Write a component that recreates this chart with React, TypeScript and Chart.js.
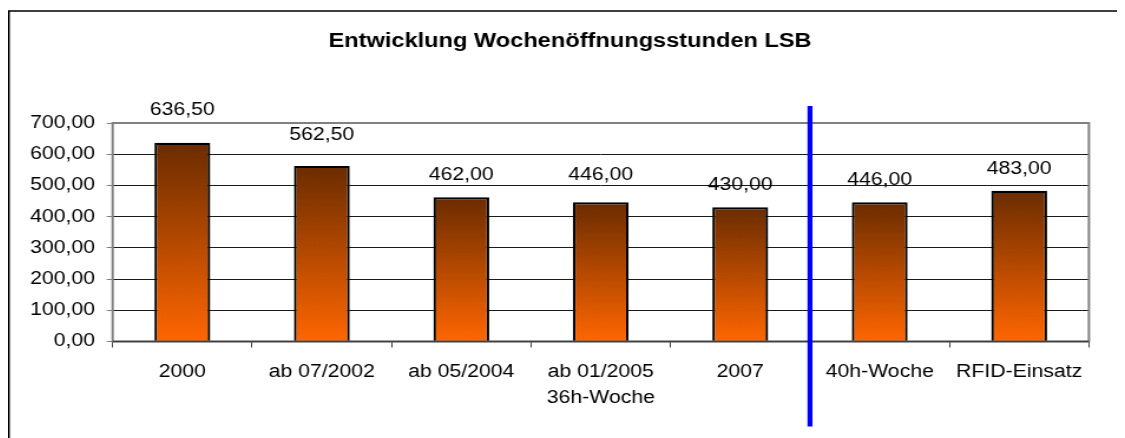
import React, { useEffect, useRef } from "react";
import { Chart, registerables } from "chart.js";

Chart.register(...registerables);

// ---- data ----
const chartTitle = "Entwicklung Wochenöffnungsstunden LSB";
const categories: (string | string[])[] = [
  "2000",
  "ab 07/2002",
  "ab 05/2004",
  ["ab 01/2005", "36h-Woche"],
  "2007",
  "40h-Woche",
  "RFID-Einsatz",
];
const openingHours = [636.5, 562.5, 462.0, 446.0, 430.0, 446.0, 483.0];
const yMin = 0;
const yMax = 700;
const yStep = 100;
// divider sits between "2007" (index 4) and "40h-Woche" (index 5)
const dividerAfterIndex = 4;
// distance of each value label above its bar (label placement as in the original)
const labelGaps = [28, 26, 17, 22, 17, 17, 17];

// ---- geometry / style ----
const STRETCH = 1.18; // the reference is horizontally stretched
const W = 947; // internal canvas width
const H = 430; // internal canvas height
const FONT = '"Liberation Sans", Arial, Helvetica, sans-serif';

const fmt = (v: number) => Number(v).toFixed(2).replace(".", ",");

const decorPlugin = {
  id: "decor",
  beforeDraw(chart: any) {
    const c = chart.ctx;
    c.save();
    c.fillStyle = "#ffffff";
    c.fillRect(0, 0, chart.width, chart.height);
    // outer frame (left + top visible)
    c.strokeStyle = "#000000";
    c.lineWidth = 1.5;
    c.beginPath();
    c.moveTo(0.75, chart.height);
    c.lineTo(0.75, 3);
    c.lineTo(chart.width, 3);
    c.stroke();
    // title
    c.font = `bold 20px ${FONT}`;
    c.fillStyle = "#000000";
    c.textAlign = "center";
    c.textBaseline = "alphabetic";
    c.fillText(chartTitle, chart.width / 2 + 3, 39);
    c.restore();
  },
  afterDatasetsDraw(chart: any) {
    const c = chart.ctx;
    const a = chart.chartArea;
    const xs = chart.scales.x;
    c.save();
    // plot area border
    c.strokeStyle = "#808080";
    c.lineWidth = 2;
    c.strokeRect(a.left, a.top, a.right - a.left, a.bottom - a.top);
    // category axis line
    c.strokeStyle = "#404040";
    c.lineWidth = 1.5;
    c.beginPath();
    c.moveTo(a.left, a.bottom);
    c.lineTo(a.right, a.bottom);
    c.stroke();
    // value labels
    const meta = chart.getDatasetMeta(0);
    c.font = `18px ${FONT}`;
    c.fillStyle = "#000000";
    c.textAlign = "center";
    c.textBaseline = "alphabetic";
    meta.data.forEach((bar: any, i: number) => {
      c.fillText(fmt(openingHours[i]), bar.x, bar.y - labelGaps[i]);
    });
    // blue divider
    const x =
      (xs.getPixelForValue(dividerAfterIndex) +
        xs.getPixelForValue(dividerAfterIndex + 1)) /
      2;
    c.strokeStyle = "#0000FF";
    c.lineWidth = 4.2;
    c.beginPath();
    c.moveTo(x, a.top - 17);
    c.lineTo(x, a.bottom + 85);
    c.stroke();
    c.restore();
  },
};

export default function App() {
  const ref = useRef<HTMLCanvasElement | null>(null);

  useEffect(() => {
    document.documentElement.style.overflow = "hidden";
    document.body.style.overflow = "hidden";
    const canvas = ref.current;
    if (!canvas) return;
    const chart = new Chart(canvas, {
      type: "bar",
      data: {
        labels: categories as any,
        datasets: [
          {
            data: openingHours,
            backgroundColor: (ctx: any) => {
              const ch = ctx.chart;
              const ys = ch.scales && ch.scales.y;
              if (!ch.chartArea || !ys || ctx.type !== "data") return "#C85000";
              const top = ys.getPixelForValue(ctx.raw);
              const bottom = ys.getPixelForValue(0);
              if (!isFinite(top) || !isFinite(bottom) || top === bottom) return "#C85000";
              const g = ch.ctx.createLinearGradient(0, top, 0, bottom);
              g.addColorStop(0, "#6B2C00");
              g.addColorStop(1, "#FF6600");
              return g;
            },
            borderColor: "#000000",
            borderWidth: 2.2,
            barPercentage: 0.4,
            categoryPercentage: 1.0,
          },
        ],
      },
      options: {
        responsive: false,
        animation: false,
        devicePixelRatio: 1,
        layout: {
          padding: { top: 115, right: W - 916.4, left: 0, bottom: 0 },
        },
        plugins: {
          legend: { display: false },
          title: { display: false },
          tooltip: { enabled: false },
        },
        scales: {
          x: {
            offset: true,
            ticks: {
              color: "#000000",
              font: { family: FONT, size: 18, lineHeight: 1.43 },
              padding: 11.6,
              maxRotation: 0,
              autoSkip: false,
            },
            grid: {
              offset: true,
              drawOnChartArea: false,
              drawTicks: true,
              tickLength: 6,
              tickColor: "#404040",
              tickWidth: 1,
            },
            border: { display: false },
            afterFit(scale: any) {
              scale.height = H - 333.5;
            },
          },
          y: {
            min: yMin,
            max: yMax,
            ticks: {
              stepSize: yStep,
              color: "#000000",
              font: { family: FONT, size: 18 },
              padding: 10,
              callback: (v: any) => fmt(Number(v)),
            },
            grid: {
              color: "#1a1a1a",
              lineWidth: 1,
              drawTicks: true,
              tickLength: 5,
              tickColor: "#808080",
            },
            border: { display: false },
            afterFit(scale: any) {
              scale.width = 88.7;
            },
          },
        },
      },
      plugins: [decorPlugin],
    });
    return () => chart.destroy();
  }, []);

  return (
    <div>
      <canvas
        ref={ref}
        width={W}
        height={H}
        style={{ width: `${W * STRETCH}px`, height: `${H}px`, display: "block" }}
      />
    </div>
  );
}
